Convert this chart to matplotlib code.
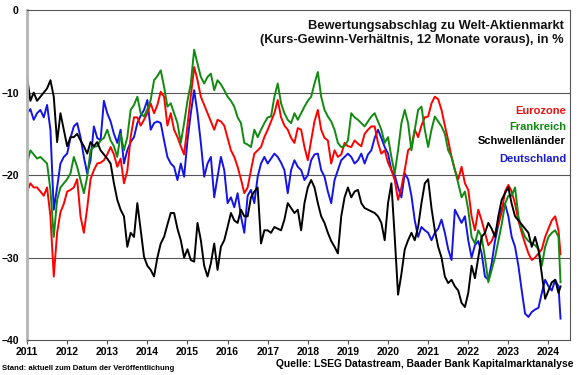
import numpy as np
import matplotlib
matplotlib.use("Agg")
import matplotlib.pyplot as plt

plt.rcParams['font.family'] = ['Liberation Sans', 'DejaVu Sans']
plt.rcParams['font.weight'] = 'bold'

# Monthly readings, Jan 2011 to Apr 2024, plus last weekly point
t = np.append(2011 + np.arange(160) / 12, 2024.3)

eurozone = [
    -22, -21, -21.5, -21.5, -22, -22.5, -21.5, -25, -32.3, -27, -24.5, -23.5,
    -22, -21.8, -21.5, -20.5, -25, -27, -24, -20.5, -19.4, -18.6, -18.5, -18.2,
    -17.5, -16.6, -17.5, -19, -18, -21, -19.5, -15.4, -13, -13, -14, -13.3,
    -12.5, -11.3, -12.5, -11.5, -9.9, -10.5, -14, -12.5, -14.5, -15.4, -16.5, -17.5,
    -14, -10.5, -6.9, -8.5, -10.5, -11.5, -12.5, -13.5, -14.5, -13.3, -13.5, -14,
    -15.5, -17, -17.8, -19, -20.5, -22.2, -21.5, -19.4, -17.4, -17, -16.6, -15.4,
    -14.5, -13.5, -12.5, -10.9, -13, -14, -14.5, -15.5, -16.1, -14.3, -14.5, -16.6,
    -18.2, -15.8, -13.5, -12.1, -14.5, -15.5, -15.8, -18.6, -17, -17.8, -17.5, -16.1,
    -16.5, -16.6, -15.8, -16.2, -16.5, -15, -14.5, -14.1, -14.1, -16.1, -17.4, -17,
    -18.5, -19.4, -20.6, -23, -21.5, -19.4, -17, -16.6, -14.5, -15.4, -14, -13,
    -12.9, -11.3, -10.5, -10.8, -12.1, -14, -15.8, -17.8, -19.4, -20.5, -19, -21,
    -21.8, -25, -26.7, -24.2, -25.5, -27, -28.5, -28, -27, -26, -24.5, -22,
    -21.2, -22, -23.5, -25.5, -27, -28.3, -29.5, -30.3, -30, -29.5, -29, -27.5,
    -26.5, -25.5, -25, -26.7, -29.6,
]

frankreich = [
    -18.6, -17, -17.5, -18, -17.8, -18.2, -18.6, -21.8, -27.5, -23, -21.5, -21,
    -20.5, -19.8, -17.8, -19, -20.6, -22.2, -20.2, -17, -16.6, -16.5, -15.8, -15.5,
    -14.5, -15.8, -16.5, -17.8, -15, -17, -15.4, -12.1, -11.5, -10.5, -12.5, -12.9,
    -12, -10.9, -8.5, -8, -7.3, -9.3, -11.7, -11.3, -12.5, -13.7, -16.1, -13.7,
    -11, -8.9, -4.8, -6.5, -8.1, -8.9, -8.1, -7.7, -9.7, -8.5, -9, -9.7,
    -10.5, -11, -11.7, -13, -13.7, -16.1, -16.3, -16.6, -14.5, -15.4, -14.5, -13.7,
    -13, -12.9, -10.5, -8.9, -11.3, -12.5, -13.3, -13.7, -12.5, -13.3, -12.5, -11.7,
    -11, -10.5, -8.9, -7.5, -10.5, -12.1, -12.9, -13.5, -14.5, -16.1, -16.6, -16.5,
    -15.8, -12.5, -13, -13.3, -13.7, -14.1, -13.5, -12.9, -12.5, -13.5, -14.5, -16.1,
    -15.4, -17.8, -19.8, -17, -13.7, -12.1, -13.7, -17, -14.5, -12.1, -11.7, -14.5,
    -16.6, -14.5, -12.9, -13.5, -14.1, -15, -17, -17.8, -19.4, -21, -22.7, -22,
    -24.2, -27.5, -28.3, -26.7, -27.5, -30, -33, -31.5, -30, -28, -26, -23.5,
    -22.5, -22.5, -21.5, -25, -26.5, -27.5, -28, -28.3, -28.5, -29, -31, -28.7,
    -27.5, -27, -26.7, -27.5, -33,
]

schwellenlaender = [
    -8.1, -11, -10, -11, -10.5, -10, -9.5, -8.5, -10.5, -16, -12.5, -14.5,
    -16.5, -15.4, -15.4, -15, -15.8, -16.5, -17.4, -16, -16.5, -16, -17, -17.5,
    -18, -18.6, -21, -23, -24.2, -25, -28.7, -27, -27.5, -23.4, -26.7, -29.9,
    -31, -31.5, -32.3, -30, -28.3, -27.5, -26, -24.6, -24.6, -26.5, -27.9, -30,
    -29, -30.3, -30.5, -25.8, -27.9, -31, -32.3, -30.7, -28.3, -31.5, -28.7, -27.9,
    -26.3, -24.6, -25.5, -25.8, -24.2, -25, -25, -22.7, -22, -21.5, -28.3, -26.7,
    -26.7, -27, -26.3, -26.5, -26.7, -25.4, -23.4, -24, -24.6, -24.2, -26.7, -23.4,
    -21.5, -20.6, -21.5, -23.4, -25, -25.8, -27, -28, -28.7, -29.5, -25, -22.7,
    -21.5, -22.7, -22, -21.8, -23.4, -24, -24.2, -24.4, -24.6, -25, -25.8, -27.9,
    -23.4, -21, -27.5, -34.5, -32, -29, -27.9, -27, -27.9, -26.3, -23.4, -21,
    -20.5, -24, -26.7, -28.7, -30, -32.3, -33.1, -32.7, -33.5, -34, -35.5, -36,
    -34.3, -31, -32.5, -30, -27.5, -27, -25.8, -26.5, -27.5, -25, -23, -22.2,
    -21.5, -23.5, -25, -25.5, -26, -26.5, -27, -28.7, -27.5, -29, -32, -35,
    -34, -33, -32.7, -34.3, -33.5,
]

deutschland = [
    -12.5, -12, -13.3, -12.5, -12.1, -13, -11.5, -14.5, -24.2, -21.5, -18.6, -17.8,
    -17.4, -15.5, -14.1, -13.7, -15.4, -17.8, -19.8, -18.2, -14.1, -15.5, -15.8, -11,
    -12.5, -13.5, -15, -16.1, -14.5, -18.6, -17, -16, -15.4, -13.7, -12.8, -12.1,
    -10.9, -14.5, -13.7, -13.5, -13.7, -15.8, -17.8, -18.6, -19, -20.6, -18.6, -20.2,
    -15.8, -12.5, -9.7, -12.5, -16.1, -20.2, -18.6, -17.8, -22.7, -20.2, -17.8, -19.4,
    -23.4, -22.7, -23.9, -22.2, -25, -27, -22.5, -21.8, -23.4, -20.2, -18.6, -17.8,
    -18.6, -18, -17.4, -17.8, -18.5, -19.4, -22.2, -19.4, -18.2, -19, -19.4, -20.6,
    -20, -18.2, -17.5, -17.4, -19.4, -20.2, -22, -23.4, -20.6, -19.4, -18.2, -17.8,
    -17.4, -17.8, -18.6, -18.2, -17.4, -18.6, -17.5, -17, -15.5, -14.5, -15.5, -16.6,
    -17.4, -19.4, -20, -21.5, -22.7, -19.8, -20.5, -22.5, -25.5, -27.5, -26.3, -26.7,
    -27, -27.9, -27, -26.5, -25.4, -27, -29, -30.3, -24.2, -25, -25.8, -25,
    -27.9, -30, -28.5, -28, -29.5, -32.3, -32.7, -30.7, -28, -26, -24, -23.5,
    -25, -27.5, -28.7, -31, -34, -36.8, -37.2, -36.6, -36.3, -36.1, -34.3, -32.7,
    -33.5, -34, -32.7, -33.5, -37.4,
]

series = [
    ("Deutschland", deutschland, "#1414e6"),
    ("Eurozone", eurozone, "#ff0000"),
    ("Frankreich", frankreich, "#108a10"),
    ("Schwellenländer", schwellenlaender, "#000000"),
]

years = list(range(2011, 2025))

fig = plt.figure(figsize=(5.8, 3.75), dpi=100)
ax = fig.add_axes([0.0466, 0.0933, 0.9364, 0.8797])

for name, vals, col in series:
    ax.plot(t, vals, color=col, lw=1.4)

ax.set_xlim(2011, 2024.54)
ax.set_ylim(-40, 0)
ax.set_yticks([0, -10, -20, -30, -40])
ax.set_xticks(years)
ax.set_xticklabels([str(y) for y in years])
ax.tick_params(axis='x', length=3, width=0.8, color='#555555', labelsize=7.5, pad=2)
ax.tick_params(axis='y', length=0, labelsize=7.5, pad=6)
for y in [-10, -20, -30]:
    ax.axhline(y, color='#555555', lw=0.8, zorder=0)

for side in ['top', 'right', 'bottom']:
    ax.spines[side].set_color('#555555')
    ax.spines[side].set_linewidth(0.8)
ax.spines['left'].set_color('#b4b4b4')
ax.spines['left'].set_linewidth(2)

ax.text(0.988, 0.97, "Bewertungsabschlag zu Welt-Aktienmarkt\n(Kurs-Gewinn-Verhältnis, 12 Monate voraus), in %",
        transform=ax.transAxes, ha='right', va='top', fontsize=9.3,
        fontweight='bold', linespacing=1.25, color='#111111')

legend_y = [111, 127, 141, 159]
labels = [("Eurozone", "#ee1111"), ("Frankreich", "#118a11"),
          ("Schwellenländer", "#000000"), ("Deutschland", "#1a1ad0")]
for (lab, col), py in zip(labels, legend_y):
    fig.text(566 / 580, 1 - py / 375, lab, ha='right', va='center',
             fontsize=8, fontweight='bold', color=col)

fig.text(2 / 580, 1 - 368 / 375, "Stand: aktuell zum Datum der Veröffentlichung",
         ha='left', va='center', fontsize=5.6, fontweight='bold')
fig.text(573 / 580, 1 - 364 / 375, "Quelle: LSEG Datastream, Baader Bank Kapitalmarktanalyse",
         ha='right', va='center', fontsize=7.4, fontweight='bold')

fig.savefig("out.png", dpi=100)
